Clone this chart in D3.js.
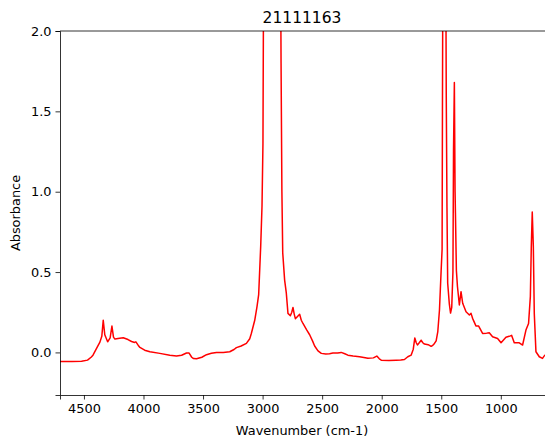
<!DOCTYPE html>
<html>
<head>
<meta charset="utf-8">
<script src="https://cdn.jsdelivr.net/npm/d3@7"></script>
<style>
  html, body { margin: 0; padding: 0; background: #fff; }
  svg { display: block; font-family: "DejaVu Sans", sans-serif; }
</style>
</head>
<body>
<div id="chart"></div>
<script>
const title = "21111163"
const xLabel = "Wavenumber (cm-1)"
const yLabel = "Absorbance"

// spectrum (wavenumber, absorbance)
const wavenumbers = [
  4701, 4600, 4520, 4470, 4440, 4424, 4393, 4366, 4350, 4338, 4325, 4301, 4280, 4265, 4252, 4240,
  4200, 4170, 4130, 4100, 4075, 4064, 4045, 4030, 3990, 3946, 3863, 3779, 3723, 3680, 3639, 3617,
  3595, 3580, 3555, 3510, 3471, 3430, 3387, 3330, 3276, 3240, 3220, 3180, 3136, 3108, 3094, 3066,
  3047, 3033, 3016, 3005, 2997, 2993, 2985, 2960, 2930, 2900, 2870, 2850, 2845, 2838, 2831, 2815,
  2801, 2787, 2767, 2755, 2745, 2735, 2725, 2705, 2689, 2675, 2661, 2630, 2605, 2580, 2563, 2535,
  2507, 2470, 2438, 2410, 2370, 2340, 2310, 2284, 2240, 2186, 2150, 2116, 2070, 2041, 2020, 2004,
  1940, 1878, 1840, 1809, 1781, 1753, 1735, 1722, 1710, 1700, 1685, 1669, 1655, 1641, 1610, 1585,
  1571, 1557, 1543, 1529, 1515, 1501, 1493, 1490, 1487, 1480, 1470, 1462, 1458, 1452, 1446, 1432,
  1422, 1412, 1402, 1397, 1390, 1384, 1381, 1373, 1364, 1348, 1334, 1320, 1292, 1264, 1250, 1237,
  1209, 1186, 1153, 1120, 1097, 1069, 1027, 998, 957, 930, 909, 887, 845, 817, 789, 767,
  752, 744, 736, 727, 719, 705, 677, 650, 629
]
const absorbance = [
  -0.057, -0.057, -0.055, -0.048, -0.03, -0.017, 0.027, 0.064, 0.1, 0.2, 0.11, 0.066, 0.09, 0.164, 0.095, 0.083,
  0.088, 0.091, 0.08, 0.068, 0.062, 0.066, 0.045, 0.031, 0.014, 0.004, -0.006, -0.017, -0.023, -0.018, -0.004, -0.004,
  -0.03, -0.038, -0.04, -0.03, -0.014, -0.005, 0, 0, 0.004, 0.018, 0.03, 0.04, 0.056, 0.085, 0.119, 0.2,
  0.285, 0.36, 0.66, 0.91, 1.3, 2.1, 3.0, 3.5, 3.2, 3.0, 3.2, 2.6, 1.8, 1.0, 0.62, 0.45,
  0.37, 0.243, 0.228, 0.25, 0.28, 0.24, 0.21, 0.225, 0.237, 0.2, 0.18, 0.14, 0.11, 0.07, 0.04, 0.01,
  -0.006, -0.01, -0.008, -0.004, -0.004, 0, -0.008, -0.017, -0.022, -0.027, -0.032, -0.037, -0.034, -0.023, -0.04, -0.048,
  -0.05, -0.048, -0.047, -0.044, -0.027, -0.017, 0.02, 0.09, 0.06, 0.046, 0.06, 0.076, 0.06, 0.052, 0.048, 0.038,
  0.044, 0.056, 0.072, 0.13, 0.264, 0.51, 0.64, 1.5, 2.3, 3.0, 3.3, 2.4, 1.6, 0.9, 0.43, 0.3,
  0.245, 0.28, 0.5, 1.26, 1.68, 1.0, 0.87, 0.51, 0.41, 0.295, 0.378, 0.306, 0.253, 0.233, 0.243, 0.212,
  0.165, 0.164, 0.118, 0.12, 0.122, 0.097, 0.087, 0.06, 0.094, 0.1, 0.106, 0.06, 0.06, 0.046, 0.139, 0.18,
  0.347, 0.66, 0.873, 0.66, 0.243, 0.004, -0.027, -0.037, -0.015
]
const xTicks = [4500, 4000, 3500, 3000, 2500, 2000, 1500, 1000]
const yTicks = [0.0, 0.5, 1.0, 1.5, 2.0]

const width = 545
const height = 441
const margin = { top: 31, right: 0, bottom: 46, left: 60 }

const svg = d3.select("#chart")
  .append("svg")
  .attr("width", width)
  .attr("height", height)

const x = d3.scaleLinear().domain([4701, 629]).range([margin.left, width - margin.right])
const y = d3.scaleLinear().domain([-0.265, 2.0]).range([height - margin.bottom, margin.top])

const data = wavenumbers.map((w, i) => ({ w: w, a: absorbance[i] }))

svg.append("clipPath")
  .attr("id", "clip")
  .append("rect")
  .attr("x", margin.left)
  .attr("y", margin.top)
  .attr("width", width - margin.left)
  .attr("height", height - margin.top - margin.bottom)

svg.append("path")
  .datum(data)
  .attr("clip-path", "url(#clip)")
  .attr("fill", "none")
  .attr("stroke", "#ff0000")
  .attr("stroke-width", 1.5)
  .attr("stroke-linejoin", "round")
  .attr("d", d3.line().x(d => x(d.w)).y(d => y(d.a)))

// axes
const xAxis = svg.append("g")
  .attr("transform", `translate(0,${height - margin.bottom})`)
  .call(d3.axisBottom(x).tickValues(xTicks).tickFormat(d3.format("d")).tickSizeOuter(0).tickSize(4.5).tickPadding(4))
const yAxis = svg.append("g")
  .attr("transform", `translate(${margin.left},0)`)
  .call(d3.axisLeft(y).tickValues(yTicks).tickFormat(d3.format(".1f")).tickSizeOuter(0).tickSize(4.5).tickPadding(4))

;[xAxis, yAxis].forEach(g => {
  g.select(".domain").attr("stroke", "#000").attr("stroke-width", 0.8)
  g.selectAll(".tick line").attr("stroke", "#000").attr("stroke-width", 0.8)
  g.selectAll(".tick text").attr("fill", "#000").style("font-size", "12.9px").style("font-family", "DejaVu Sans")
})

// top spine
svg.append("line")
  .attr("x1", margin.left).attr("x2", width)
  .attr("y1", margin.top).attr("y2", margin.top)
  .attr("stroke", "#000").attr("stroke-width", 0.8)

svg.append("text")
  .attr("x", 302)
  .attr("y", 22.5)
  .attr("text-anchor", "middle")
  .style("font-size", "15.5px")
  .text(title)

svg.append("text")
  .attr("x", 302)
  .attr("y", 435)
  .attr("text-anchor", "middle")
  .style("font-size", "12.9px")
  .text(xLabel)

svg.append("text")
  .attr("transform", `translate(20,${(margin.top + height - margin.bottom) / 2}) rotate(-90)`)
  .attr("text-anchor", "middle")
  .style("font-size", "12.9px")
  .text(yLabel)
</script>
</body>
</html>
